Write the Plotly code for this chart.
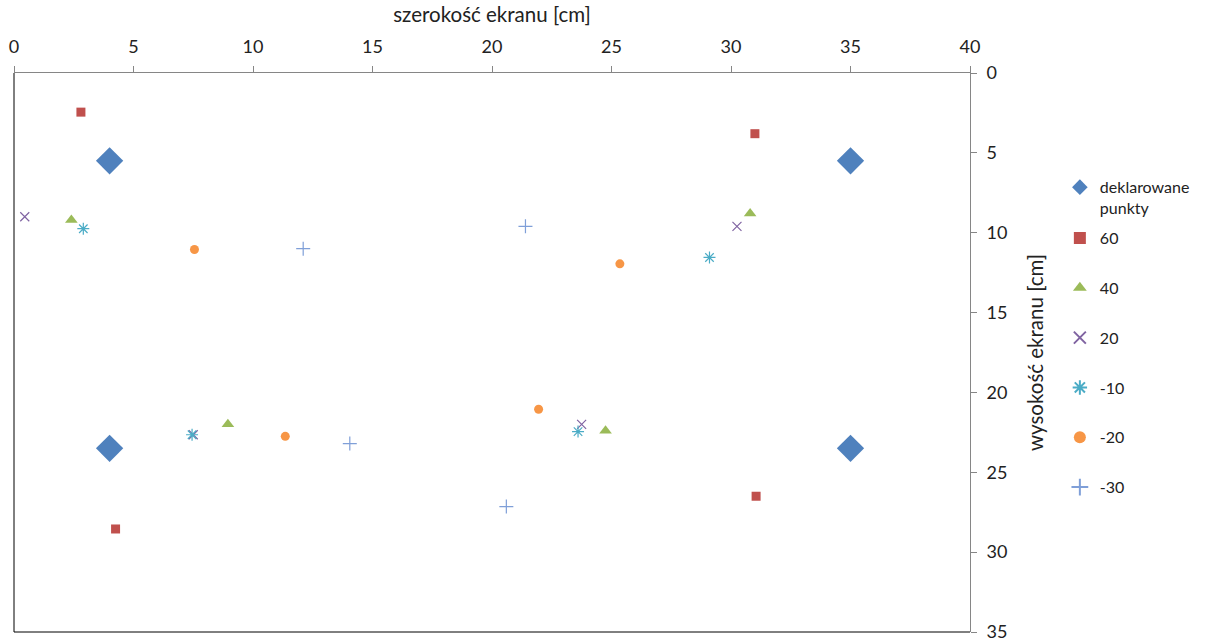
import plotly.graph_objects as go

# Declared calibration points
decl_x = [4, 35, 4, 35]
decl_y = [5.5, 5.5, 23.5, 23.5]

# Measured points per angle setting
s60_x = [2.8, 31.0, 4.25, 31.05]
s60_y = [2.45, 3.8, 28.55, 26.5]

s40_x = [2.4, 30.8, 8.95, 24.75]
s40_y = [9.2, 8.8, 22.0, 22.4]

s20_x = [0.45, 30.25, 7.5, 23.75]
s20_y = [9.0, 9.6, 22.65, 22.0]

m10_x = [2.9, 29.1, 7.45, 23.6]
m10_y = [9.75, 11.55, 22.65, 22.45]

m20_x = [7.55, 25.35, 11.35, 21.95]
m20_y = [11.05, 11.95, 22.75, 21.05]

m30_x = [12.1, 21.4, 14.05, 20.6]
m30_y = [11.0, 9.6, 23.2, 27.15]

series = [
    ("deklarowane<br>punkty", decl_x, decl_y, "diamond", 21, "#4F81BD", 0, "legend2"),
    ("60", s60_x, s60_y, "square", 9, "#C0504D", 0, "legend"),
    ("40", s40_x, s40_y, "triangle-up", 11, "#9BBB59", 0, "legend"),
    ("20", s20_x, s20_y, "x-thin-open", 9, "#8064A2", 1.2, "legend"),
    ("-10", m10_x, m10_y, "asterisk-open", 10, "#4BACC6", 1.2, "legend"),
    ("-20", m20_x, m20_y, "circle", 9, "#F79646", 0, "legend"),
    ("-30", m30_x, m30_y, "cross-thin-open", 10, "#7F9FD8", 1.2, "legend"),
]

fig = go.Figure()
for i, (name, xs, ys, sym, size, color, lw, leg) in enumerate(series):
    marker = dict(symbol=sym, size=size, color=color)
    if lw:
        marker["line"] = dict(color=color, width=lw)
    else:
        marker["line"] = dict(width=0)
    fig.add_trace(go.Scatter(
        x=xs, y=ys, mode="markers", name=name, marker=marker,
        legendgroup=f"g{i}", legend=leg,
    ))

font = "Lato, 'Open Sans', sans-serif"
legend_x = 1.094

fig.update_layout(
    width=1205, height=639,
    margin=dict(l=14, r=235, t=73, b=7),
    paper_bgcolor="white", plot_bgcolor="white",
    font=dict(family=font, size=16, color="#222222"),
    showlegend=True,
    legend=dict(
        x=legend_x, xanchor="left", y=0.735, yanchor="top",
        font=dict(size=16), tracegroupgap=26, itemsizing="constant",
        traceorder="grouped", bgcolor="rgba(0,0,0,0)",
    ),
    legend2=dict(
        x=legend_x, xanchor="left", y=0.826, yanchor="top",
        font=dict(size=16), itemsizing="constant", valign="top",
        bgcolor="rgba(0,0,0,0)",
    ),
    xaxis=dict(
        side="top", range=[0, 40], dtick=5, tick0=0,
        showgrid=False, zeroline=False, automargin=False,
        showline=True, linecolor="#868686", linewidth=1,
        ticks="outside", ticklen=6, tickcolor="#868686",
        tickfont=dict(size=18), ticklabelstandoff=6, ticklabeloverflow="allow",
        title=dict(text="szerokość ekranu [cm]", font=dict(size=20.5), standoff=6),
    ),
    yaxis=dict(
        side="right", range=[35, 0], dtick=5, tick0=0,
        showgrid=False, zeroline=False, automargin=False,
        showline=True, linecolor="#868686", linewidth=1,
        ticks="outside", ticklen=6, tickcolor="#868686",
        tickfont=dict(size=18), ticklabelstandoff=6, ticklabeloverflow="allow",
        title=dict(text="wysokość ekranu [cm]", font=dict(size=20.5), standoff=22),
    ),
    shapes=[
        dict(type="line", xref="paper", yref="paper", x0=0, x1=0, y0=0, y1=1,
             line=dict(color="black", width=1)),
        dict(type="line", xref="paper", yref="paper", x0=0, x1=1, y0=0, y1=0,
             line=dict(color="black", width=1)),
    ],
)

fig.write_html("out.html")
